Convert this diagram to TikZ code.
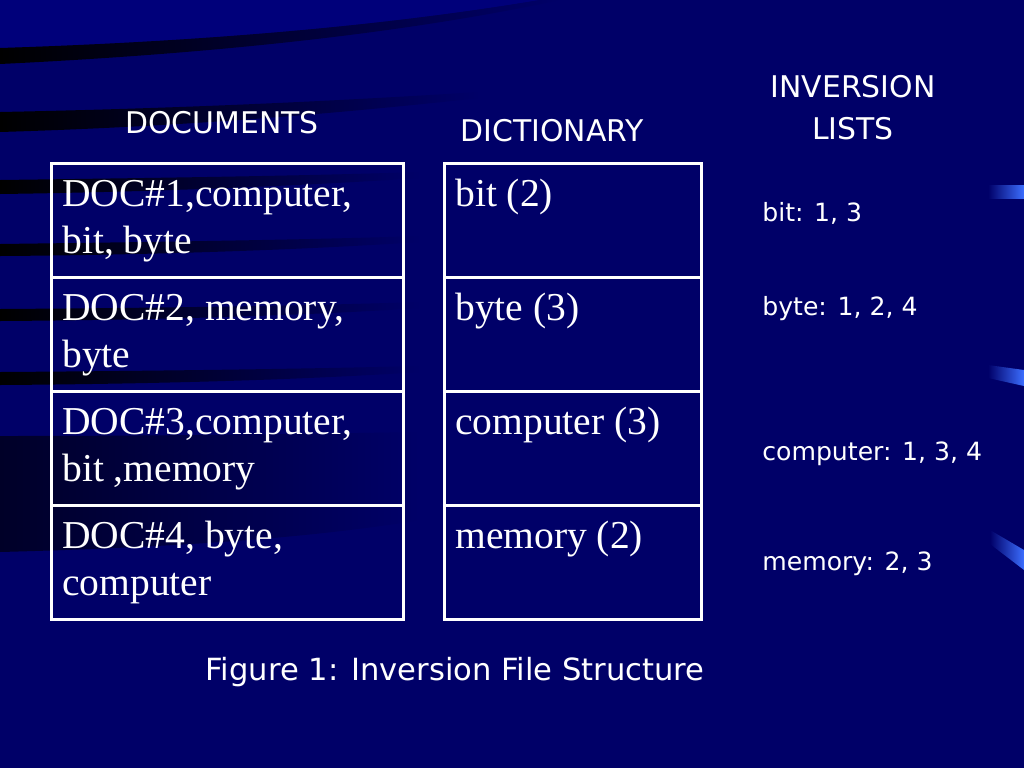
\documentclass[tikz,border=0pt]{standalone}
\usepackage{fontspec}
\setmainfont{Liberation Serif}
\newfontfamily\tahoma{DejaVu Sans}
\definecolor{navy}{RGB}{0,0,104}
\definecolor{navyhi}{RGB}{0,0,122}
\definecolor{navylo}{RGB}{0,0,40}
\definecolor{glint}{RGB}{60,110,255}
\tikzset{
  cell/.style     = {shape=rectangle, draw=white, line width=1.7pt,
          anchor=north west, minimum height=2.28cm, inner sep=0pt},
  doccell/.style  = {cell, minimum width=7.04cm},
  dictcell/.style = {cell, minimum width=5.14cm},
  entry/.style    = {anchor=base west, align=left, inner sep=0pt,
          font=\fontsize{22.5}{26.6}\selectfont},
  head/.style     = {anchor=base, align=center, inner sep=0pt,
          font=\tahoma\fontsize{17}{23.8}\selectfont},
  caption/.style  = {head, font=\tahoma\fontsize{17.4}{20}\selectfont},
  plist/.style    = {anchor=base west, inner sep=0pt,
          font=\tahoma\fontsize{14.3}{17}\selectfont},
  band/.style     = {left color=black, right color=navy},
  softband/.style = {left color=navylo, right color=navy},
  glintmark/.style = {left color=navy, right color=glint}
}
\begin{document}
\begin{tikzpicture}
  [
    x = 0.02cm, y = -0.02cm,
    every node/.style = {text=white}
  ]
  % background
  \fill[navy] (0,0) rectangle (1024,768);
  \fill[navyhi] (0,0) -- (0,48) .. controls (250,40) and (420,20) .. (540,0) -- cycle;
  \shade[band] (0,48) .. controls (250,40) and (420,20) .. (540,0) -- (560,0)
    .. controls (430,28) and (250,52) .. (0,64) -- cycle;
  \shade[band] (0,112) .. controls (200,108) and (350,100) .. (480,92)
    -- (480,98) .. controls (350,112) and (200,126) .. (0,132) -- cycle;
  \shade[band] (0,180) .. controls (150,178) and (300,176) .. (420,172)
    -- (420,178) .. controls (300,186) and (150,192) .. (0,194) -- cycle;
  \shade[band] (0,244) .. controls (150,242) and (300,240) .. (420,236)
    -- (420,242) .. controls (300,250) and (150,255) .. (0,256) -- cycle;
  \shade[band] (0,309) .. controls (150,308) and (300,306) .. (420,302)
    -- (420,308) .. controls (300,316) and (150,320) .. (0,321) -- cycle;
  \shade[band] (0,372) .. controls (150,371) and (300,369) .. (420,366)
    -- (420,372) .. controls (300,380) and (150,384) .. (0,385) -- cycle;
  \shade[softband] (0,436) .. controls (150,436) and (300,434) .. (420,432)
    -- (420,520) .. controls (300,540) and (150,548) .. (0,552) -- cycle;
  % glints on the right edge
  \shade[glintmark] (988,185) -- (1024,185) -- (1024,198) -- (988,198) -- cycle;
  \shade[glintmark] (988,365) -- (1024,370) -- (1024,386) -- (988,378) -- cycle;
  \shade[glintmark] (990,530) -- (1024,550) -- (1024,570) -- (990,544) -- cycle;

  % headings
  \node[head] (hdocs) at (222,133) {DOCUMENTS};
  \node[head] (hdict) at (552,141) {DICTIONARY};
  \node[head] (hinv)  at (853,139) {INVERSION\\LISTS};

  % documents column
  \node[doccell] (docA) at (50,162) {};
  \node[doccell] (docB) at (50,276) {};
  \node[doccell] (docC) at (50,390) {};
  \node[doccell] (docD) at (50,504) {};
  \node[entry] (doctxtA) at (62,253) {DOC\#1,computer,\\bit, byte};
  \node[entry] (doctxtB) at (62,367) {DOC\#2, memory,\\byte};
  \node[entry] (doctxtC) at (62,481) {DOC\#3,computer,\\bit ,memory};
  \node[entry] (doctxtD) at (62,595) {DOC\#4, byte,\\computer};

  % dictionary column
  \node[dictcell] (dictA) at (443,162) {};
  \node[dictcell] (dictB) at (443,276) {};
  \node[dictcell] (dictC) at (443,390) {};
  \node[dictcell] (dictD) at (443,504) {};
  \node[entry] (wordA) at (455,206) {bit (2)};
  \node[entry] (wordB) at (455,320) {byte (3)};
  \node[entry] (wordC) at (455,434) {computer (3)};
  \node[entry] (wordD) at (455,548) {memory (2)};

  % inversion lists
  \node[plist] (listA) at (762,221) {bit: 1, 3};
  \node[plist] (listB) at (762,315) {byte: 1, 2, 4};
  \node[plist] (listC) at (762,460) {computer: 1, 3, 4};
  \node[plist] (listD) at (762,570) {memory: 2, 3};

  \node[caption] (figcap) at (455,680) {Figure 1: Inversion File Structure};
\end{tikzpicture}
\end{document}
